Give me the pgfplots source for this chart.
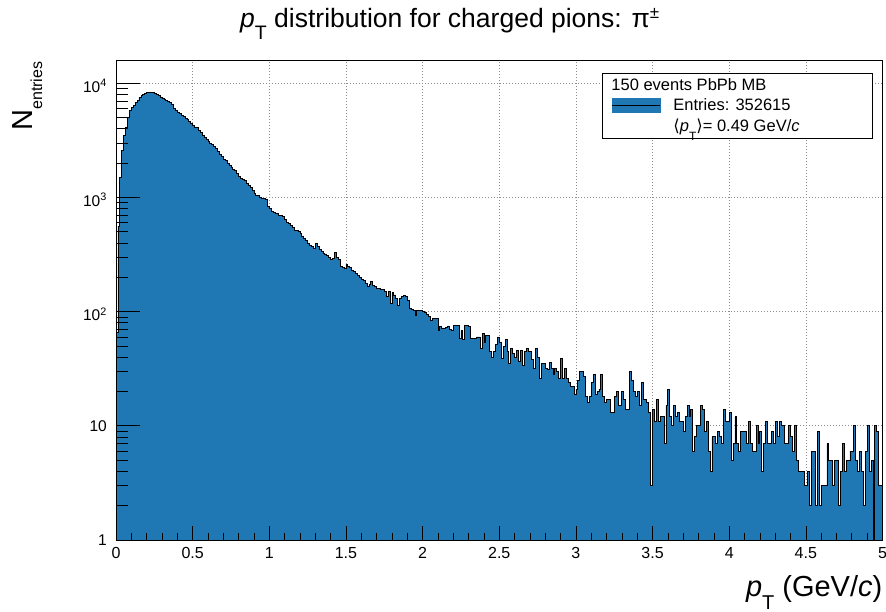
\documentclass[border=0pt]{standalone}
\usepackage{fontspec}
\setmainfont{Liberation Sans}
\newfontfamily\dejavu{DejaVu Sans}
\usepackage{pgfplots}
\usepackage{pgfplotstable}
\pgfplotsset{compat=1.18}

\definecolor{histblue}{RGB}{31,119,180}
\newcommand\fs[1]{\fontsize{#1}{#1}\selectfont}
% ROOT-style subscript: smaller and dropped well below the baseline
\newcommand\rsub[3]{\raisebox{-#1}{\fs{#2}#3}}
\newcommand\lstrut{\rule[-5bp]{0pt}{16bp}}

% pT spectrum of charged pions: lower bin edge (GeV/c) and entries, 400 bins of 12.5 MeV/c
\pgfplotstableread[row sep=\\]{
lo n\\
0.0000 66\\ 0.0125 560\\ 0.0250 1490\\ 0.0375 2570\\ 0.0500 3470\\ 0.0625 4150\\ 0.0750 5000\\ 0.0875 5750\\
0.1000 6200\\ 0.1125 6430\\ 0.1250 6750\\ 0.1375 7100\\ 0.1500 7570\\ 0.1625 7800\\ 0.1750 7980\\ 0.1875 8200\\
0.2000 8250\\ 0.2125 8300\\ 0.2250 8300\\ 0.2375 8250\\ 0.2500 8150\\ 0.2625 8000\\ 0.2750 7850\\ 0.2875 7600\\
0.3000 7450\\ 0.3125 7300\\ 0.3250 7050\\ 0.3375 6950\\ 0.3500 6800\\ 0.3625 6550\\ 0.3750 6000\\ 0.3875 5800\\
0.4000 5600\\ 0.4125 5400\\ 0.4250 5250\\ 0.4375 5100\\ 0.4500 4950\\ 0.4625 4800\\ 0.4750 4600\\ 0.4875 4450\\
0.5000 4300\\ 0.5125 4150\\ 0.5250 4100\\ 0.5375 3850\\ 0.5500 3700\\ 0.5625 3500\\ 0.5750 3350\\ 0.5875 3200\\
0.6000 3100\\ 0.6125 3000\\ 0.6250 2900\\ 0.6375 2800\\ 0.6500 2700\\ 0.6625 2550\\ 0.6750 2400\\ 0.6875 2300\\
0.7000 2150\\ 0.7125 2100\\ 0.7250 2000\\ 0.7375 1900\\ 0.7500 1830\\ 0.7625 1760\\ 0.7750 1720\\ 0.7875 1620\\
0.8000 1530\\ 0.8125 1480\\ 0.8250 1430\\ 0.8375 1400\\ 0.8500 1330\\ 0.8625 1270\\ 0.8750 1230\\ 0.8875 1160\\
0.9000 1080\\ 0.9125 1040\\ 0.9250 1040\\ 0.9375 1000\\ 0.9500 990\\ 0.9625 980\\ 0.9750 960\\ 0.9875 830\\
1.0000 800\\ 1.0125 760\\ 1.0250 740\\ 1.0375 730\\ 1.0500 720\\ 1.0625 700\\ 1.0750 690\\ 1.0875 680\\
1.1000 640\\ 1.1125 600\\ 1.1250 590\\ 1.1375 570\\ 1.1500 550\\ 1.1625 515\\ 1.1750 510\\ 1.1875 500\\
1.2000 480\\ 1.2125 460\\ 1.2250 436\\ 1.2375 420\\ 1.2500 395\\ 1.2625 380\\ 1.2750 370\\ 1.2875 360\\
1.3000 395\\ 1.3125 370\\ 1.3250 350\\ 1.3375 340\\ 1.3500 325\\ 1.3625 320\\ 1.3750 312\\ 1.3875 300\\
1.4000 284\\ 1.4125 290\\ 1.4250 330\\ 1.4375 300\\ 1.4500 284\\ 1.4625 250\\ 1.4750 246\\ 1.4875 238\\
1.5000 260\\ 1.5125 250\\ 1.5250 246\\ 1.5375 230\\ 1.5500 223\\ 1.5625 215\\ 1.5750 208\\ 1.5875 200\\
1.6000 192\\ 1.6125 188\\ 1.6250 178\\ 1.6375 165\\ 1.6500 172\\ 1.6625 183\\ 1.6750 170\\ 1.6875 165\\
1.7000 160\\ 1.7125 160\\ 1.7250 157\\ 1.7375 156\\ 1.7500 150\\ 1.7625 137\\ 1.7750 149\\ 1.7875 119\\
1.8000 146\\ 1.8125 140\\ 1.8250 130\\ 1.8375 114\\ 1.8500 130\\ 1.8625 135\\ 1.8750 139\\ 1.8875 135\\
1.9000 126\\ 1.9125 106\\ 1.9250 105\\ 1.9375 103\\ 1.9500 93\\ 1.9625 102\\ 1.9750 103\\ 1.9875 103\\
2.0000 100\\ 2.0125 98\\ 2.0250 94\\ 2.0375 90\\ 2.0500 83\\ 2.0625 87\\ 2.0750 87\\ 2.0875 87\\
2.1000 69\\ 2.1125 74\\ 2.1250 72\\ 2.1375 71\\ 2.1500 73\\ 2.1625 75\\ 2.1750 70\\ 2.1875 69\\
2.2000 76\\ 2.2125 76\\ 2.2250 76\\ 2.2375 58\\ 2.2500 68\\ 2.2625 57\\ 2.2750 76\\ 2.2875 76\\
2.3000 74\\ 2.3125 58\\ 2.3250 58\\ 2.3375 58\\ 2.3500 60\\ 2.3625 60\\ 2.3750 48\\ 2.3875 64\\
2.4000 54\\ 2.4125 62\\ 2.4250 62\\ 2.4375 45\\ 2.4500 40\\ 2.4625 45\\ 2.4750 52\\ 2.4875 60\\
2.5000 54\\ 2.5125 39\\ 2.5250 50\\ 2.5375 57\\ 2.5500 45\\ 2.5625 35\\ 2.5750 48\\ 2.5875 43\\
2.6000 40\\ 2.6125 46\\ 2.6250 37\\ 2.6375 46\\ 2.6500 34\\ 2.6625 45\\ 2.6750 48\\ 2.6875 45\\
2.7000 45\\ 2.7125 38\\ 2.7250 32\\ 2.7375 48\\ 2.7500 40\\ 2.7625 26\\ 2.7750 35\\ 2.7875 35\\
2.8000 32\\ 2.8125 31\\ 2.8250 36\\ 2.8375 32\\ 2.8500 28\\ 2.8625 32\\ 2.8750 30\\ 2.8875 26\\
2.9000 39\\ 2.9125 26\\ 2.9250 32\\ 2.9375 26\\ 2.9500 24\\ 2.9625 22\\ 2.9750 22\\ 2.9875 19\\
3.0000 21\\ 3.0125 25\\ 3.0250 30\\ 3.0375 30\\ 3.0500 27\\ 3.0625 18\\ 3.0750 16\\ 3.0875 18\\
3.1000 24\\ 3.1125 28\\ 3.1250 19\\ 3.1375 20\\ 3.1500 21\\ 3.1625 28\\ 3.1750 18\\ 3.1875 16\\
3.2000 17\\ 3.2125 17\\ 3.2250 13\\ 3.2375 13\\ 3.2500 18\\ 3.2625 20\\ 3.2750 15\\ 3.2875 15\\
3.3000 20\\ 3.3125 17\\ 3.3250 14\\ 3.3375 14\\ 3.3500 30\\ 3.3625 25\\ 3.3750 20\\ 3.3875 18\\
3.4000 20\\ 3.4125 15\\ 3.4250 24\\ 3.4375 17\\ 3.4500 17\\ 3.4625 16\\ 3.4750 13\\ 3.4875 3\\
3.5000 14\\ 3.5125 11\\ 3.5250 17\\ 3.5375 11\\ 3.5500 12\\ 3.5625 12\\ 3.5750 7\\ 3.5875 15\\
3.6000 21\\ 3.6125 12\\ 3.6250 10\\ 3.6375 15\\ 3.6500 12\\ 3.6625 13\\ 3.6750 11\\ 3.6875 11\\
3.7000 9\\ 3.7125 12\\ 3.7250 15\\ 3.7375 12\\ 3.7500 14\\ 3.7625 6\\ 3.7750 8\\ 3.7875 10\\
3.8000 10\\ 3.8125 15\\ 3.8250 14\\ 3.8375 9\\ 3.8500 11\\ 3.8625 6\\ 3.8750 4\\ 3.8875 8\\
3.9000 8\\ 3.9125 7\\ 3.9250 9\\ 3.9375 8\\ 3.9500 7\\ 3.9625 14\\ 3.9750 11\\ 3.9875 11\\
4.0000 13\\ 4.0125 5\\ 4.0250 7\\ 4.0375 12\\ 4.0500 7\\ 4.0625 6\\ 4.0750 9\\ 4.0875 9\\
4.1000 9\\ 4.1125 7\\ 4.1250 11\\ 4.1375 7\\ 4.1500 6\\ 4.1625 6\\ 4.1750 10\\ 4.1875 7\\
4.2000 9\\ 4.2125 4\\ 4.2250 7\\ 4.2375 11\\ 4.2500 7\\ 4.2625 7\\ 4.2750 9\\ 4.2875 7\\
4.3000 11\\ 4.3125 8\\ 4.3250 11\\ 4.3375 10\\ 4.3500 10\\ 4.3625 7\\ 4.3750 7\\ 4.3875 10\\
4.4000 8\\ 4.4125 6\\ 4.4250 10\\ 4.4375 5\\ 4.4500 4\\ 4.4625 4\\ 4.4750 4\\ 4.4875 3\\
4.5000 3\\ 4.5125 4\\ 4.5250 2\\ 4.5375 6\\ 4.5500 6\\ 4.5625 2\\ 4.5750 9\\ 4.5875 2\\
4.6000 3\\ 4.6125 3\\ 4.6250 3\\ 4.6375 7\\ 4.6500 5\\ 4.6625 5\\ 4.6750 3\\ 4.6875 5\\
4.7000 5\\ 4.7125 2\\ 4.7250 4\\ 4.7375 7\\ 4.7500 4\\ 4.7625 5\\ 4.7750 5\\ 4.7875 6\\
4.8000 6\\ 4.8125 10\\ 4.8250 5\\ 4.8375 4\\ 4.8500 6\\ 4.8625 4\\ 4.8750 2\\ 4.8875 6\\
4.9000 10\\ 4.9125 4\\ 4.9250 5\\ 4.9375 0\\ 4.9500 10\\ 4.9625 9\\ 4.9750 3\\ 4.9875 3\\
5.0000 3\\
}\pionpt

\pgfplotsset{
  pionframe/.style={
    at={(116bp,72bp)}, anchor=south west,
    scale only axis, width=766.5bp, height=480bp,
    xmin=0, xmax=5, ymin=1, ymax=16000,
    tick align=inside,
    tick style={black, line width=0.7bp},
    axis line style={black, line width=0.8bp},
  },
}

\begin{document}
\begin{tikzpicture}
\useasboundingbox (0,0) rectangle (886bp,612bp);

% grid, labels, legend and the filled histogram
\begin{semilogyaxis}[pionframe,
  grid=major,
  major grid style={black!45, line width=0.7bp, dash pattern=on 1bp off 2bp},
  major tick length=0pt, minor tick length=0pt,
  xtick={0,0.5,...,5},
  xticklabels={0,0.5,1,1.5,2,2.5,3,3.5,4,4.5,5},
  ytick={1,10,100,1000,10000},
  yticklabels={\raisebox{3.3bp}{1},\raisebox{3.3bp}{10},10\textsuperscript{2},10\textsuperscript{3},10\textsuperscript{4}},
  xticklabel style={font=\fs{16bp}, anchor=north, inner sep=0pt, yshift=-7bp},
  yticklabel style={font=\fs{15.5bp}, anchor=base east, inner sep=0pt, xshift=-9bp, yshift=-8.7bp},
  title={\fs{26.5bp}\textit{p}\rsub{12.4bp}{19.5bp}{T} distribution for charged pions: π\raisebox{9bp}{\fs{17bp}±}},
  title style={at={(axis description cs:0.1618,1.0556)}, anchor=base west, inner sep=0pt},
  xlabel={\fs{29bp}\textit{p}\rsub{13bp}{20bp}{T} (GeV/\textit{c})},
  xlabel style={at={(axis description cs:1,-0.1167)}, anchor=base east, inner sep=0pt},
  ylabel={\fs{29bp}N\rsub{10bp}{16bp}{entries}},
  ylabel style={at={(axis description cs:-0.1357,0.997)}, anchor=north east, inner sep=0pt},
  legend style={
    at={(axis description cs:0.634,0.9729)}, anchor=north west,
    draw=black, line width=0.8bp, fill=white,
    inner xsep=9bp, inner ysep=3bp, row sep=3bp,
    font=\fs{16.5bp},
    /tikz/every odd column/.append style={column sep=11bp},
  },
  legend cell align=left,
]
\addplot[const plot, fill=histblue, draw=black, line width=0.8bp, forget plot]
  table[x=lo, y expr={max(\thisrow{n},0.5)}] {\pionpt} \closedcycle;

\addlegendimage{empty legend}
\addlegendentry{\lstrut\hspace*{-62bp}150 events PbPb MB}
\addlegendimage{legend image code/.code={
  \fill[histblue] (0bp,-7.3bp) rectangle (48bp,7.3bp);
  \draw[black, line width=1.1bp] (0bp,0bp) -- (48bp,0bp);}}
\addlegendentry{\lstrut Entries: 352615}
\addlegendimage{empty legend}
\addlegendentry{\lstrut\makebox[188bp][l]{{\dejavu ⟨}\textit{p}\rsub{9bp}{12bp}{T}{\dejavu ⟩}= 0.49 GeV/\textit{c}}}
\end{semilogyaxis}

% x ticks and frame, drawn over the histogram
\begin{semilogyaxis}[pionframe,
  xtick={0,0.5,...,5}, minor x tick num=4, xticklabels={},
  ytick=\empty, xtick pos=lower,
  major tick length=14bp, minor tick length=7bp,
]
\end{semilogyaxis}

% y ticks, drawn over the histogram
\begin{semilogyaxis}[pionframe,
  xtick=\empty, ytick pos=left,
  ytick={1,10,100,1000,10000}, yticklabels={},
  minor ytick={2,3,4,5,6,7,8,9,20,30,40,50,60,70,80,90,200,300,400,500,600,700,800,900,2000,3000,4000,5000,6000,7000,8000,9000},
  major tick length=24bp, minor tick length=12bp,
]
\end{semilogyaxis}
\end{tikzpicture}
\end{document}
